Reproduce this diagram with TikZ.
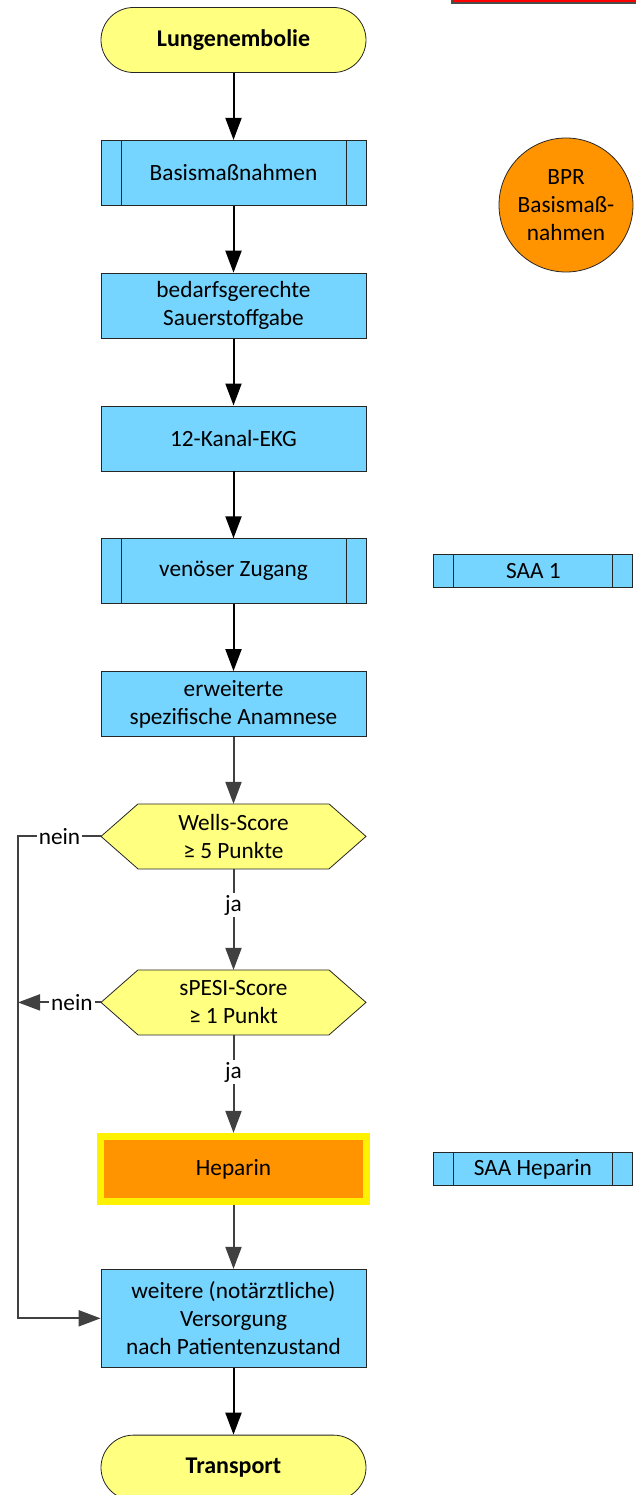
\documentclass[tikz,border=0pt]{standalone}
\usepackage{fontspec}
\setmainfont{Carlito}
\usetikzlibrary{arrows.meta,positioning,backgrounds}
\definecolor{boxBlue}   {RGB}{117,213,255}
\definecolor{termYellow}{RGB}{255,255,128}
\definecolor{drugOrange}{RGB}{255,148,  0}
\definecolor{lineGray}  {RGB}{ 64, 64, 64}

\begin{document}
\begin{tikzpicture}[x=1pt,y=-1pt,
        every node/.style={font=\fontsize{23.3}{28}\selectfont},
        box/.style={draw=black!85, line width=0.8pt,
                    fill=boxBlue, align=center, inner sep=2pt,
                    minimum width=265pt, minimum height=65pt},
        subproc/.style={box,
                    path picture={\draw[black!85, line width=0.8pt]
                      ([xshift=20pt]path picture bounding box.north west) --
                      ([xshift=20pt]path picture bounding box.south west)
                      ([xshift=-20pt]path picture bounding box.north east) --
                      ([xshift=-20pt]path picture bounding box.south east);}},
        term/.style={box, fill=termYellow, rounded corners=32.5pt,
                    font=\fontsize{24}{28}\selectfont\bfseries},
        hexbox/.style={align=center, inner sep=0pt, outer sep=0pt,
                    minimum width=265pt, minimum height=65pt},
        hexline/.style={draw=black!85, line width=0.8pt, fill=termYellow},
        drug/.style={box, draw=yellow, line width=7pt, fill=drugOrange,
                    minimum width=266pt},
        sideproc/.style={subproc, minimum width=199pt, minimum height=33pt},
        bpr/.style={circle, draw=black!85, line width=0.8pt, fill=drugOrange,
                    align=center, minimum size=134pt, inner sep=0pt},
        lbl/.style={fill=white, text=black, inner sep=2pt},
        arr/.style={-{Triangle[length=22pt,width=16pt]},
                    line width=2pt, black},
        garr/.style={arr, lineGray},
        node distance=67pt]
        \useasboundingbox (0,0) rectangle (635,1495);
        % main column
        \node[term] (start) at (233.5,40) {Lungenembolie};
        \node[subproc, below=of start] (basis) {Basismaßnahmen};
        \node[box, below=of basis] (oxy)
          {bedarfsgerechte\\Sauerstoffgabe};
        \node[box, below=of oxy] (ekg) {12-Kanal-EKG};
        \node[subproc, below=of ekg] (zugang) {venöser Zugang};
        \node[box, below=of zugang] (anamnese)
          {erweiterte\\spezifische Anamnese};
        \node[hexbox, below=of anamnese] (wells)
          {Wells-Score\\≥ 5 Punkte};
        \node[hexbox, below=101pt of wells] (spesi)
          {sPESI-Score\\≥ 1 Punkt};
        \node[drug, below=98pt of spesi] (heparin) {Heparin};
        \node[box, below=64pt of heparin, minimum height=98pt] (weitere)
          {weitere (notärztliche)\\Versorgung\\nach Patientenzustand};
        \node[term, below=of weitere] (transport) {Transport};
        % side column
        \node[draw=black!70, fill=red, line width=1.5pt,
              minimum width=184pt, minimum height=40pt,
              anchor=south west] (banner) at (451,4) {};
        \node[bpr] (bprnode) at (566,205)
          {BPR\\Basismaß-\\nahmen};
        \node[sideproc, right=of zugang] (saa1) {SAA 1};
        \node[sideproc, right=63pt of heparin] (saahep) {SAA Heparin};
        % decision shapes
        \begin{scope}[on background layer]
          \foreach \n in {wells,spesi}
            \draw[hexline] (\n.west) -- ([xshift=37pt]\n.north west)
              -- ([xshift=-37pt]\n.north east) -- (\n.east)
              -- ([xshift=-37pt]\n.south east)
              -- ([xshift=37pt]\n.south west) -- cycle;
        \end{scope}
        % connectors
        \draw[arr] (start) -- (basis);
        \draw[arr] (basis) -- (oxy);
        \draw[arr] (oxy) -- (ekg);
        \draw[arr] (ekg) -- (zugang);
        \draw[arr] (zugang) -- (anamnese);
        \draw[garr] (anamnese) -- (wells);
        \draw[garr] (wells) -- node[lbl, pos=0.36] {ja} (spesi);
        \draw[garr] (spesi) -- node[lbl, pos=0.38] {ja} (heparin);
        \draw[garr] (heparin) -- (weitere);
        \draw[arr] (weitere) -- (transport);
        \coordinate (railtop) at ([xshift=-83pt]wells.west);
        \coordinate (railmid) at ([xshift=-83pt]spesi.west);
        \draw[garr] (wells.west) -- node[lbl, pos=0.5] {nein} (railtop)
          |- (weitere.west);
        \draw[garr] (spesi.west) -- node[lbl, pos=0.35] {nein} (railmid);
      \end{tikzpicture}
\end{document}
